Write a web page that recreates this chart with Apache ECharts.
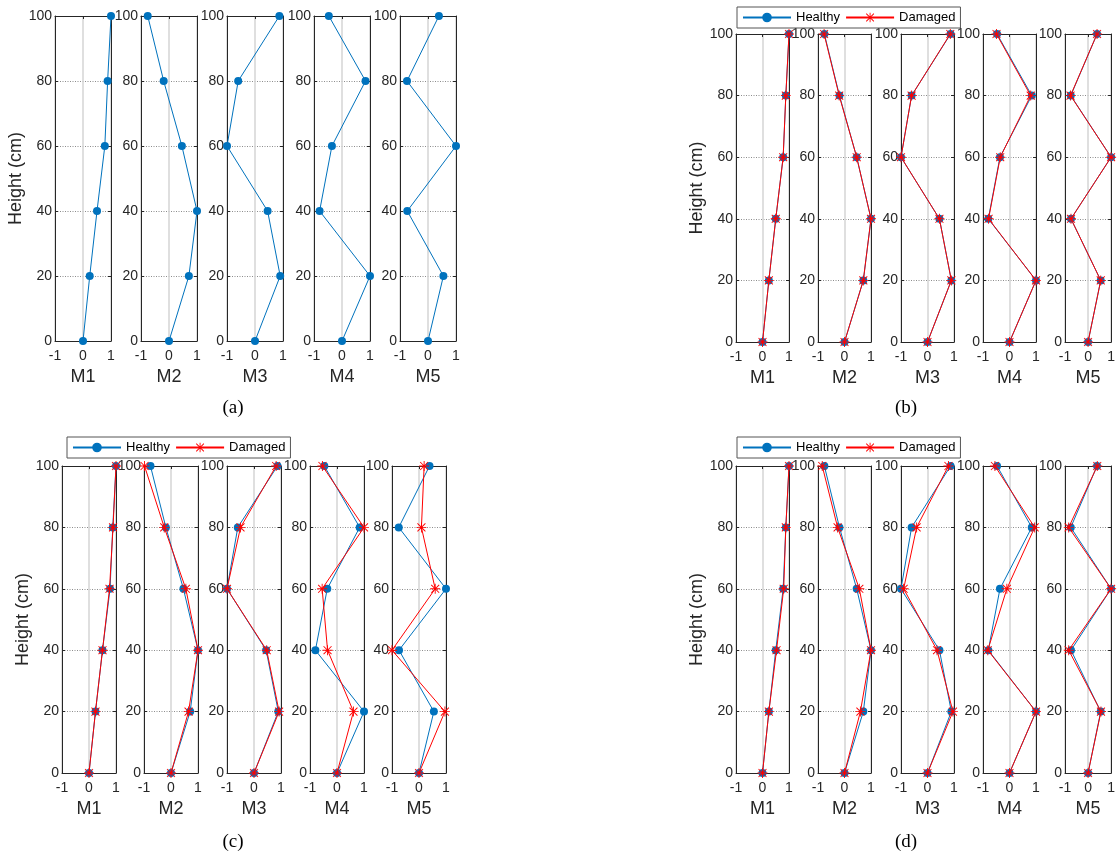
<!DOCTYPE html>
<html>
<head>
<meta charset="utf-8">
<script src="https://cdn.jsdelivr.net/npm/echarts@6/dist/echarts.min.js"></script>
<style>
html,body{margin:0;padding:0;background:#fff;}
#chart{width:1118px;height:854px;}
</style>
</head>
<body>
<div id="chart"></div>
<script>
// ---- data ----
const heights = [0, 20, 40, 60, 80, 100];
const modeNames = ['M1', 'M2', 'M3', 'M4', 'M5'];
const xTickValues = [-1, 0, 1];
const yTickValues = [0, 20, 40, 60, 80, 100];
const panelLabels = ['(a)', '(b)', '(c)', '(d)'];
const legendNames = ['Healthy', 'Damaged'];

// healthy mode shapes (same reference state in every panel)
const healthyM1 = [0, 0.24, 0.5, 0.78, 0.88, 1.0];
const healthyM2 = [0, 0.71, 1.0, 0.46, -0.19, -0.76];
const healthyM3 = [0, 0.9, 0.45, -1.0, -0.6, 0.87];
const healthyM4 = [0, 1.0, -0.8, -0.36, 0.84, -0.47];
const healthyM5 = [0, 0.55, -0.74, 1.0, -0.75, 0.39];

// damaged mode shapes, panel (b)
const damagedB_M1 = [0, 0.24, 0.5, 0.78, 0.88, 1.0];
const damagedB_M2 = [0, 0.71, 1.0, 0.46, -0.2, -0.77];
const damagedB_M3 = [0, 0.9, 0.45, -1.0, -0.6, 0.86];
const damagedB_M4 = [0, 1.0, -0.79, -0.35, 0.8, -0.49];
const damagedB_M5 = [0, 0.55, -0.74, 1.0, -0.76, 0.39];

// damaged mode shapes, panel (c)
const damagedC_M1 = [0, 0.24, 0.5, 0.76, 0.89, 1.0];
const damagedC_M2 = [0, 0.65, 1.0, 0.55, -0.25, -0.98];
const damagedC_M3 = [0, 0.93, 0.47, -1.0, -0.5, 0.82];
const damagedC_M4 = [0, 0.61, -0.35, -0.55, 1.0, -0.54];
const damagedC_M5 = [0, 0.96, -1.0, 0.6, 0.09, 0.19];

// damaged mode shapes, panel (d)
const damagedD_M1 = [0, 0.24, 0.53, 0.8, 0.88, 1.0];
const damagedD_M2 = [0, 0.6, 1.0, 0.56, -0.26, -0.84];
const damagedD_M3 = [0, 0.96, 0.36, -0.9, -0.41, 0.79];
const damagedD_M4 = [0, 1.0, -0.82, -0.1, 0.95, -0.55];
const damagedD_M5 = [0, 0.56, -0.84, 1.0, -0.84, 0.4];

const healthy = [healthyM1, healthyM2, healthyM3, healthyM4, healthyM5];
const damagedB = [damagedB_M1, damagedB_M2, damagedB_M3, damagedB_M4, damagedB_M5];
const damagedC = [damagedC_M1, damagedC_M2, damagedC_M3, damagedC_M4, damagedC_M5];
const damagedD = [damagedD_M1, damagedD_M2, damagedD_M3, damagedD_M4, damagedD_M5];

// ---- layout ----
const panels = [
  { lefts: [55, 141, 227, 314, 400], width: 56, top: 16, height: 325, damaged: null, legend: null, label: [233, 408] },
  { lefts: [736, 818, 901, 983, 1065], width: 53, top: 34, height: 308, damaged: damagedB, legend: [737, 7], label: [906, 408] },
  { lefts: [62, 144, 227, 310, 392], width: 54, top: 466, height: 307, damaged: damagedC, legend: [67, 437], label: [233, 842] },
  { lefts: [736, 818, 901, 983, 1065], width: 53, top: 466, height: 307, damaged: damagedD, legend: [737, 437], label: [906, 842] }
];

const TXT = '#262626';
const BLUE = '#0072BD';
const RED = '#FF0000';
const FONT = 'Liberation Sans, Arial, sans-serif';
const asterisk = 'path://M9.1 0H10.9V20H9.1Z M0 9.1H20V10.9H0Z M1.4 2.7L2.7 1.4L18.6 17.3L17.3 18.6Z M17.3 1.4L18.6 2.7L2.7 18.6L1.4 17.3Z';

const grid = [], xAxis = [], yAxis = [], series = [], legend = [], graphic = [];
const edgeLine = { show: true, onZero: false, lineStyle: { color: TXT, width: 1 } };
const inTick = { show: true, inside: true, length: 3, lineStyle: { color: TXT } };

panels.forEach((p, pi) => {
  p.lefts.forEach((left, mi) => {
    const gi = grid.length;
    grid.push({
      left: left, top: p.top, width: p.width, height: p.height,
      show: true, borderWidth: 0, backgroundColor: '#fff', containLabel: false
    });
    // bottom x axis
    xAxis.push({
      type: 'value', gridIndex: gi, min: -1, max: 1, interval: 1,
      name: modeNames[mi], nameLocation: 'middle', nameGap: 27,
      nameTextStyle: { fontSize: 18, color: TXT, fontFamily: FONT },
      axisLine: edgeLine, axisTick: inTick,
      axisLabel: { fontSize: 14, color: TXT, fontFamily: FONT, margin: 8,
                   formatter: v => xTickValues.includes(v) ? String(v) : '' },
      splitLine: { show: true, lineStyle: { color: '#d4d4d4', width: 1.5, type: 'solid' } }
    });
    // top x axis (frame + ticks only)
    xAxis.push({
      type: 'value', gridIndex: gi, min: -1, max: 1, interval: 1, position: 'top',
      axisLine: edgeLine, axisLabel: { show: false }, splitLine: { show: false }, axisTick: inTick
    });
    // left y axis
    yAxis.push({
      type: 'value', gridIndex: gi, min: 0, max: 100, interval: 20,
      name: mi === 0 ? 'Height (cm)' : '', nameLocation: 'middle', nameGap: 27,
      nameTextStyle: { fontSize: 18, color: TXT, fontFamily: FONT },
      axisLine: edgeLine, axisTick: inTick,
      axisLabel: { fontSize: 14, color: TXT, fontFamily: FONT, margin: 3,
                   formatter: v => yTickValues.includes(v) ? String(v) : '' },
      splitLine: { show: true, lineStyle: { color: '#8c8c8c', width: 1, type: [1, 1.5] } }
    });
    // right y axis (frame + ticks only)
    yAxis.push({
      type: 'value', gridIndex: gi, min: 0, max: 100, interval: 20, position: 'right',
      axisLine: edgeLine, axisLabel: { show: false }, splitLine: { show: false }, axisTick: inTick
    });
    const xi = gi * 2, yi = gi * 2;
    series.push({
      name: 'Healthy', type: 'line', xAxisIndex: xi, yAxisIndex: yi,
      data: heights.map((h, k) => [healthy[mi][k], h]),
      symbol: 'circle', symbolSize: 8, clip: false, silent: true, animation: false,
      color: BLUE,
      lineStyle: { color: BLUE, width: 1 }, itemStyle: { color: BLUE }, z: 3
    });
    if (p.damaged) {
      series.push({
        name: 'Damaged', type: 'line', xAxisIndex: xi, yAxisIndex: yi,
        data: heights.map((h, k) => [p.damaged[mi][k], h]),
        symbol: asterisk, symbolSize: 10, clip: false, silent: true, animation: false,
        color: RED,
        lineStyle: { color: RED, width: 1 }, itemStyle: { color: RED }, z: 4
      });
    }
  });
  if (p.legend) {
    legend.push({
      data: legendNames,
      left: p.legend[0], top: p.legend[1], orient: 'horizontal',
      itemWidth: 48, itemHeight: 12, itemGap: 5, padding: [4, 5],
      borderColor: '#555', borderWidth: 1, backgroundColor: '#fff',
      textStyle: { fontSize: 13, color: '#000', fontFamily: FONT },
      selectedMode: false
    });
  }
  graphic.push({
    type: 'text', x: p.label[0], y: p.label[1],
    style: { text: panelLabels[pi], textAlign: 'center', textVerticalAlign: 'middle',
             font: '19px "Liberation Serif", "Times New Roman", serif', fill: '#000' }
  });
});

const chart = echarts.init(document.getElementById('chart'), null, { renderer: 'canvas' });
chart.setOption({
  backgroundColor: '#fff',
  animation: false,
  grid, xAxis, yAxis, series, legend, graphic
});
</script>
</body>
</html>
